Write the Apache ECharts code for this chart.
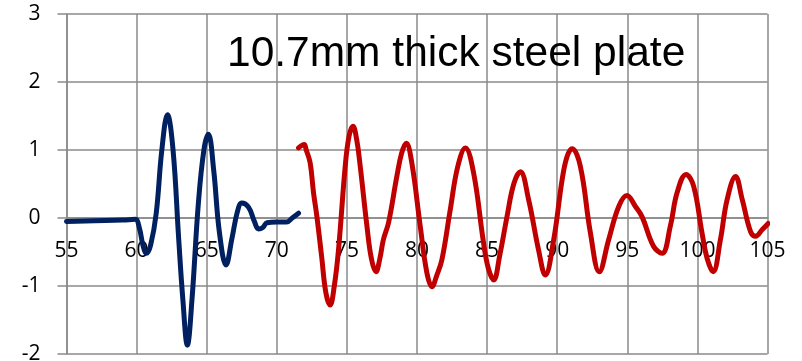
<!DOCTYPE html>
<html>
<head>
<meta charset="utf-8">
<script src="https://cdn.jsdelivr.net/npm/echarts@6/dist/echarts.min.js"></script>
<style>
html,body{margin:0;padding:0;background:#fff;}
#chart{width:802px;height:361px;}
</style>
</head>
<body>
<div id="chart"></div>
<script>
var titleText = "10.7mm thick steel plate";
var xTicks = [55, 60, 65, 70, 75, 80, 85, 90, 95, 100, 105];
var yTicks = [-2, -1, 0, 1, 2, 3];

var blueX = [55, 57, 59, 59.9, 60.2, 60.45, 60.7, 61.0, 61.4, 61.8, 62.2, 62.6, 63.0, 63.3, 63.62, 63.95, 64.4, 64.8, 65.12, 65.5, 65.9, 66.38, 66.8, 67.2, 67.5, 67.98, 68.4, 68.7, 69.0, 69.3, 70.0, 70.7, 71.1, 71.55];
var blueY = [-0.05, -0.04, -0.03, -0.02, -0.15, -0.4, -0.52, -0.4, 0.07, 1.0, 1.52, 1.0, -0.3, -1.2, -1.87, -1.2, 0.2, 1.0, 1.23, 0.7, -0.2, -0.69, -0.3, 0.1, 0.22, 0.16, -0.05, -0.16, -0.14, -0.07, -0.06, -0.06, 0.0, 0.07];

var redX = [71.55, 71.95, 72.1, 72.38, 72.62, 72.86, 73.2, 73.5, 73.8, 74.1, 74.4, 74.88, 75.15, 75.43, 75.7, 75.95, 76.43, 76.75, 77.07, 77.35, 77.6, 77.97, 78.56, 78.9, 79.23, 79.63, 80.23, 80.7, 81.07, 81.4, 81.78, 82.37, 82.9, 83.45, 84.04, 84.75, 85.1, 85.47, 85.9, 86.42, 86.9, 87.37, 87.96, 88.67, 89.15, 89.75, 90.35, 90.7, 91.06, 91.65, 92.37, 93.0, 93.67, 94.39, 94.98, 95.58, 96.05, 96.88, 97.48, 98.07, 98.55, 99.19, 99.73, 100.33, 100.7, 101.12, 101.64, 102.12, 102.72, 103.2, 103.79, 104.15, 104.63, 105.05];
var redY = [1.03, 1.08, 1.0, 0.81, 0.37, 0.02, -0.57, -1.1, -1.28, -1.0, -0.47, 0.76, 1.2, 1.35, 1.15, 0.76, -0.12, -0.6, -0.79, -0.6, -0.32, -0.07, 0.61, 0.95, 1.1, 0.81, -0.12, -0.8, -1.01, -0.85, -0.61, 0.12, 0.75, 1.03, 0.66, -0.37, -0.75, -0.91, -0.55, 0.02, 0.5, 0.68, 0.27, -0.47, -0.84, -0.32, 0.56, 0.9, 1.02, 0.76, -0.22, -0.79, -0.32, 0.17, 0.33, 0.17, 0.02, -0.42, -0.52, -0.12, 0.37, 0.64, 0.47, -0.22, -0.6, -0.79, -0.32, 0.27, 0.61, 0.27, -0.2, -0.27, -0.17, -0.08];

function pairs(xs, ys) { return xs.map(function (x, i) { return [x, ys[i]]; }); }

var gridColor = '#8a8a8a';
var chart = echarts.init(document.getElementById('chart'), null, { renderer: 'canvas' });
chart.setOption({
  animation: false,
  backgroundColor: '#ffffff',
  title: {
    text: titleText,
    left: 227,
    top: 33,
    padding: 0,
    textStyle: { fontFamily: 'Liberation Sans', fontSize: 42.5, fontWeight: 'normal', color: '#000' }
  },
  grid: { left: 66.5, right: 34.5, top: 14, bottom: 7, containLabel: false, outerBoundsMode: 'none' },
  xAxis: {
    type: 'value',
    z: 0,
    min: xTicks[0], max: xTicks[xTicks.length - 1], interval: 5,
    position: 'bottom',
    offset: 0,
    axisLine: { show: true, onZero: false, lineStyle: { color: gridColor, width: 1.5 } },
    axisTick: { show: false },
    splitLine: { show: true, lineStyle: { color: gridColor, width: 1.5 } },
    axisLabel: { margin: 23, fontFamily: 'Open Sans', fontSize: 21, color: '#000', showMinLabel: true, showMaxLabel: true }
  },
  yAxis: {
    type: 'value',
    z: 0,
    min: yTicks[0], max: yTicks[yTicks.length - 1], interval: 1,
    axisLine: { show: true, onZero: false, lineStyle: { color: gridColor, width: 1.5 } },
    axisTick: { show: true, length: 9, lineStyle: { color: gridColor, width: 1.5 } },
    splitLine: { show: true, lineStyle: { color: gridColor, width: 1.5 } },
    axisLabel: { margin: 26, fontFamily: 'Open Sans', fontSize: 21, color: '#000' }
  },
  series: [
    { type: 'line', data: pairs(blueX, blueY), smooth: 0.4, showSymbol: false, lineStyle: { color: '#002060', width: 5, cap: 'round', join: 'round' }, z: 10 },
    { type: 'line', data: pairs(redX, redY), smooth: 0.4, showSymbol: false, lineStyle: { color: '#C00000', width: 5, cap: 'round', join: 'round' }, z: 10 }
  ]
});
// Place the x axis where y = 0 crosses, using the library's own scale.
var zeroPx = chart.convertToPixel({ yAxisIndex: 0 }, 0);
var minPx = chart.convertToPixel({ yAxisIndex: 0 }, yTicks[0]);
chart.setOption({ xAxis: { offset: zeroPx - minPx } });
</script>
</body>
</html>
